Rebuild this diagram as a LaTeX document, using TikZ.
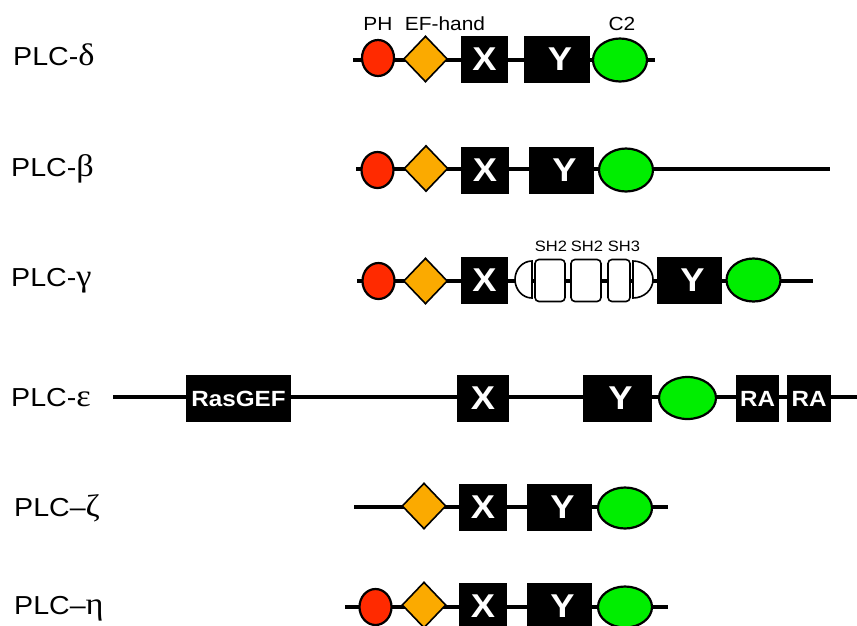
\documentclass[tikz,border=0pt]{standalone}
\usepackage{fontspec}
\setmainfont{Liberation Sans}[FakeStretch=1.1]
\newfontfamily\grk{Liberation Serif}[FakeStretch=1.1,Scale=1.2]
\usetikzlibrary{shapes.geometric}
\definecolor{phred}{HTML}{FF2A00}
\definecolor{eforange}{HTML}{FBAA00}
\definecolor{ctwogreen}{HTML}{00EE00}
\begin{document}
\begin{tikzpicture}[x=1pt,y=-1pt,
  backbone/.style={line width=4pt},
  phdom/.style={ellipse, draw, line width=2.2pt, fill=phred, inner sep=0pt, minimum width=32pt, minimum height=36pt},
  efdom/.style={diamond, draw, line width=1.6pt, fill=eforange, inner sep=0pt, minimum width=44pt, minimum height=46pt},
  blackbox/.style={rectangle, fill=black, inner sep=0pt, text=white, font=\bfseries\fontsize{33}{33}\selectfont, minimum height=47pt},
  smallbox/.style={blackbox, font=\bfseries\fontsize{22}{22}\selectfont},
  c2dom/.style={ellipse, draw, line width=2.2pt, fill=ctwogreen, inner sep=0pt, minimum width=54pt, minimum height=43pt},
  shbox/.style={rectangle, rounded corners=4pt, draw, line width=1.6pt, fill=white, inner sep=0pt, minimum height=42pt},
  shside/.style={draw, line width=1.6pt, fill=white},
  plclabel/.style={inner sep=0pt, anchor=base west, font=\fontsize{26}{26}\selectfont},
  toplabel/.style={inner sep=0pt, anchor=base, font=\fontsize{19}{19}\selectfont},
  shlabel/.style={inner sep=0pt, anchor=base, font=\fontsize{15}{15}\selectfont}
]
\useasboundingbox (0,0) rectangle (857,625);

% ---------------- PLC-delta ----------------
\node[plclabel] (ldelta) at (13,65) {PLC-{\grk δ}};
\coordinate (ds) at (353,60); \coordinate (de) at (655,60);
\draw[backbone] (ds) -- (de);
\node[phdom] (dph) at (378,58) {};
\node[efdom] (def) at (425.5,59) {};
\node[blackbox, minimum width=47pt] (dx) at (484.5,59.5) {X};
\node[blackbox, minimum width=66pt] (dy) at (557,59.5) {\hspace*{6pt}Y};
\node[c2dom] (dc) at (620,60) {};
\node[toplabel] (tph) at (378,30) {PH};
\node[toplabel] (tef) at (445,30) {EF-hand};
\node[toplabel] (tc2) at (622,30) {C2};

% ---------------- PLC-beta ----------------
\node[plclabel] (lbeta) at (11,176) {PLC-{\grk β}};
\coordinate (bs) at (356,169); \coordinate (be) at (830,169);
\draw[backbone] (bs) -- (be);
\node[phdom] (bph) at (377.5,170) {};
\node[efdom] (bef) at (426,168.5) {};
\node[blackbox, minimum width=48pt] (bx) at (485,170) {X};
\node[blackbox, minimum width=65pt] (by) at (561.5,170) {\hspace*{6pt}Y};
\node[c2dom] (bc) at (626,170) {};

% ---------------- PLC-gamma ----------------
\node[plclabel] (lgamma) at (11,286) {PLC-{\grk γ}};
\coordinate (gs) at (357,281); \coordinate (ge) at (813,281);
\draw[backbone] (gs) -- (ge);
\node[phdom] (gph) at (378.5,281) {};
\node[efdom] (gef) at (425.5,281) {};
\node[blackbox, minimum width=47pt] (gx) at (484.5,280) {X};
\draw[shside] (532,261) -- (532,298) arc[start angle=90, end angle=270, x radius=17, y radius=18.5] -- cycle;
\node[shbox, minimum width=30pt] (gsh1) at (550,280.5) {};
\node[shbox, minimum width=30pt] (gsh2) at (586,280.5) {};
\node[shbox, minimum width=22pt] (gsh3) at (619,280.5) {};
\draw[shside] (633,261) -- (633,298) arc[start angle=90, end angle=-90, x radius=20, y radius=18.5] -- cycle;
\node[blackbox, minimum width=65pt] (gy) at (689.5,280) {\hspace*{6pt}Y};
\node[c2dom] (gc) at (753.5,280) {};
\node[shlabel] (tsh1) at (551,251) {SH2};
\node[shlabel] (tsh2) at (587,251) {SH2};
\node[shlabel] (tsh3) at (624,251) {SH3};

% ---------------- PLC-epsilon ----------------
\node[plclabel] (leps) at (11,406) {PLC-{\grk ε}};
\coordinate (es) at (113,397); \coordinate (ee) at (857,397);
\draw[backbone] (es) -- (ee);
\node[blackbox, minimum width=105pt, font=\bfseries\fontsize{22}{22}\selectfont] (egef) at (238.5,398.5) {RasGEF};
\node[blackbox, minimum width=52pt] (ex) at (483,398.5) {X};
\node[blackbox, minimum width=69pt] (ey) at (617.5,398.5) {\hspace*{6pt}Y};
\node[c2dom, minimum width=57pt, minimum height=42pt] (ec) at (687.5,398) {};
\node[smallbox, minimum width=43pt] (era1) at (757.5,398.5) {RA};
\node[smallbox, minimum width=44pt] (era2) at (809,398.5) {RA};

% ---------------- PLC-zeta ----------------
\node[plclabel] (lzeta) at (14,516) {PLC–{\grk ζ}};
\coordinate (zs) at (354,507); \coordinate (ze) at (668,507);
\draw[backbone] (zs) -- (ze);
\node[efdom] (zef) at (424,506) {};
\node[blackbox, minimum width=48pt] (zx) at (483,507.5) {X};
\node[blackbox, minimum width=65pt] (zy) at (559.5,507.5) {\hspace*{6pt}Y};
\node[c2dom, minimum height=41pt] (zc) at (625,508) {};

% ---------------- PLC-eta ----------------
\node[plclabel] (leta) at (14,614) {PLC–{\grk η}};
\coordinate (hs) at (345,607); \coordinate (he) at (668,607);
\draw[backbone] (hs) -- (he);
\node[phdom] (hph) at (375.5,607) {};
\node[efdom] (hef) at (424,605) {};
\node[blackbox, minimum width=48pt] (hx) at (483,606.5) {X};
\node[blackbox, minimum width=65pt] (hy) at (559.5,606.5) {\hspace*{6pt}Y};
\node[c2dom, minimum height=41pt] (hc) at (625,607) {};
\end{tikzpicture}
\end{document}
